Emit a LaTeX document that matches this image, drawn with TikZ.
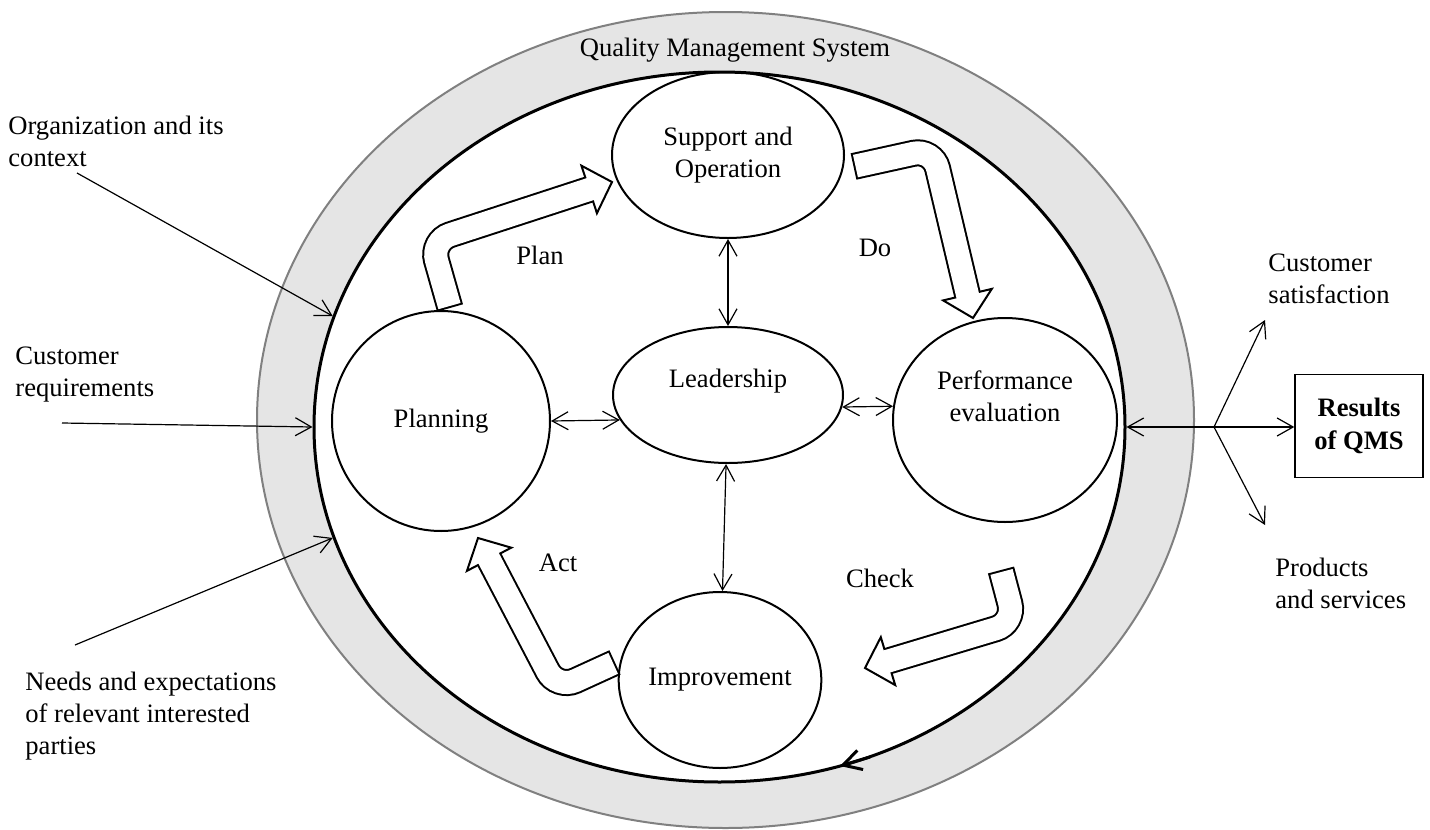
\documentclass[tikz,border=0pt]{standalone}
\usepackage{fontspec}
\setmainfont{Liberation Serif}
\usetikzlibrary{shapes.geometric,arrows.meta,calc}

% hollow bent arrow: start, bend, tip
\newcommand{\pdcaarrow}[3]{%
  \coordinate (hb) at ($(#3)!12pt!(#2)$);
  \draw[line width=13.5pt, rounded corners=10pt] (#1) -- (#2) -- (hb);
  \draw[line width=1pt, fill=white, line join=miter] (#3) -- ($(hb)!12.5pt!90:(#3)$) -- ($(hb)!12.5pt!-90:(#3)$) -- cycle;
  \draw[white, line width=11.5pt, rounded corners=10pt] ($(#1)!1pt!(#2)$) -- (#2) -- ($(hb)!-1.5pt!(#2)$);
}

\begin{document}
\begin{tikzpicture}[x=0.5pt,y=-0.5pt,
  every node/.style={font=\fontsize{13.3}{16}\selectfont},
  stage/.style={draw, ellipse, line width=1pt, align=center, inner sep=0pt},
  link/.style={line width=0.6pt, {Straight Barb[length=8pt,width=9pt]}-{Straight Barb[length=8pt,width=9pt]}},
  feed/.style={line width=0.6pt, -{Straight Barb[length=8pt,width=9pt]}},
  note/.style={align=left, anchor=west, inner sep=0pt}]
  \useasboundingbox (0,0) rectangle (1430,830);

  % The system as two rings
  \node[ellipse, draw=gray, line width=1pt, fill=gray!20, inner sep=0pt,
        minimum width=468.5pt, minimum height=408pt] (qms) at (725.5,420) {};
  \node[ellipse, draw, line width=1.5pt, fill=white, inner sep=0pt,
        minimum width=405.5pt, minimum height=355pt] (core) at (719.5,427) {};
  \node (qmslbl) at (735,50) {Quality Management System};
  \coordinate (cyc1) at (870,757);
  \coordinate (cyc2) at (840,766);
  \draw[line width=1.5pt, -{Straight Barb[length=9pt,width=10pt]}] (cyc1) -- (cyc2);

  % Stages of the cycle
  \node[stage, minimum width=116pt, minimum height=83pt] (supp) at (728,155) {Support and\\Operation};
  \node[stage, minimum width=115pt, minimum height=68pt] (lead) at (728,395) {};
  \node (leadtxt) at (728,381) {Leadership};
  \node[stage, minimum width=109pt, minimum height=110pt] (plan) at (441,421) {Planning};
  \node[stage, minimum width=112pt, minimum height=102pt] (perf) at (1005,420) {};
  \node[align=center] (perftxt) at (1005,396) {Performance\\evaluation};
  \node[stage, minimum width=100pt, minimum height=88pt] (impr) at (720,680) {Improvement};

  \draw[link] (supp) -- (lead);
  \draw[link] (lead) -- (impr);
  \draw[link] (plan.east) -- (lead.193);
  \draw[link] (lead.-6.6) -- (perf.173.8);

  % PDCA arrows
  \coordinate (planS) at (450,308);
  \coordinate (planB) at (431,241);
  \coordinate (planT) at (612,182);
  \pdcaarrow{planS}{planB}{planT}
  \coordinate (doS) at (853.5,166.5);
  \coordinate (doB) at (933,149);
  \coordinate (doT) at (973,318);
  \pdcaarrow{doS}{doB}{doT}
  \coordinate (chkS) at (1001,570);
  \coordinate (chkB) at (1015,623);
  \coordinate (chkT) at (865,668);
  \pdcaarrow{chkS}{chkB}{chkT}
  \coordinate (actS) at (615,662.5);
  \coordinate (actB) at (557,689);
  \coordinate (actT) at (478,538);
  \pdcaarrow{actS}{actB}{actT}

  \node (planlbl) at (540,255) {Plan};
  \node (dolbl) at (875,248) {Do};
  \node (chklbl) at (880,578) {Check};
  \node (actlbl) at (558,563) {Act};

  % Inputs
  \node[note] (orglbl) at (8,141.5) {Organization and its\\context};
  \node[note] (reqlbl) at (15,375) {Customer\\requirements};
  \node[note] (needlbl) at (25,716) {Needs and expectations\\of relevant interested\\parties};
  \coordinate (orgin) at (77,173);
  \coordinate (reqin) at (62,423);
  \coordinate (needin) at (75,645);
  \draw[feed] (orgin) -- (core.164);
  \draw[feed] (reqin) -- (core.west);
  \draw[feed] (needin) -- (core.196);

  % Outputs
  \node[draw, line width=0.7pt, minimum width=64pt, minimum height=51.5pt, align=center,
        font=\fontsize{13.3}{16.3}\selectfont\bfseries] (res) at (1359,426) {Results\\of QMS};
  \draw[link] (core.east) -- (core.east -| res.west);
  \coordinate (fork) at (1214,427);
  \coordinate (satis) at (1265,320);
  \coordinate (prods) at (1265,525);
  \draw[feed] (fork) -- (satis);
  \draw[feed] (fork) -- (prods);
  \node[note] (satlbl) at (1268,278.5) {Customer\\satisfaction};
  \node[note] (prodlbl) at (1275,583.5) {Products\\and services};
\end{tikzpicture}
\end{document}
